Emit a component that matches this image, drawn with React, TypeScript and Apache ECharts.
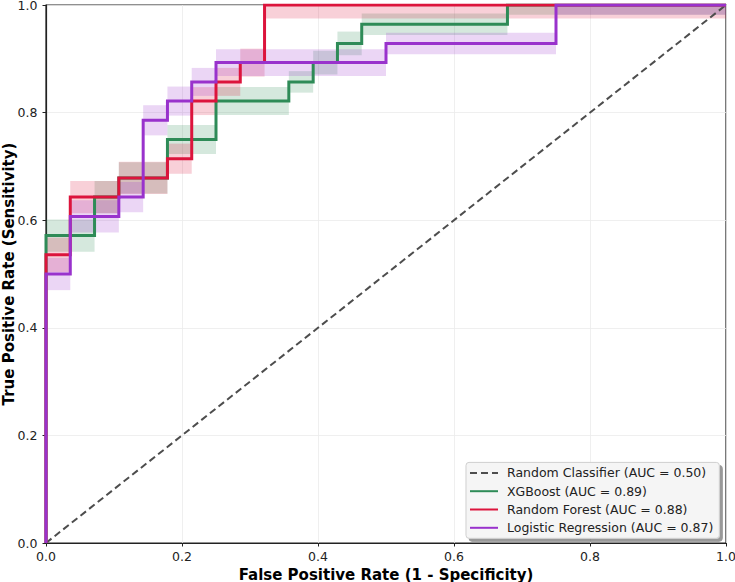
import React, { useEffect, useRef } from "react";
import * as echarts from "echarts";

const FONT = "'DejaVu Sans', 'Liberation Sans', sans-serif";

const legendNames = [
  "Random Classifier (AUC = 0.50)",
  "XGBoost (AUC = 0.89)",
  "Random Forest (AUC = 0.88)",
  "Logistic Regression (AUC = 0.87)",
];

const colors = ["#4d4d4d", "#2e8b57", "#dc143c", "#9932cc"];
const bandColors = ["rgba(46,139,87,0.2)", "rgba(220,20,60,0.2)", "rgba(153,50,204,0.2)"];

// diagonal reference
const diagX = [0, 1];
const diagY = [0, 1];

// XGBoost: segment boundaries (FPR), levels (TPR), band half-widths
const xgbFpr = [0, 0.0714, 0.1071, 0.1786, 0.25, 0.3571, 0.3929, 0.4286, 0.4643, 0.6786, 1.0];
const xgbTpr = [0.5714, 0.6429, 0.6786, 0.75, 0.8214, 0.8571, 0.8929, 0.9286, 0.9643, 1.0];
const xgbBand = [0.03, 0.03, 0.029, 0.027, 0.026, 0.02, 0.022, 0.022, 0.02, 0.018];

// Random Forest
const rfFpr = [0, 0.0357, 0.1071, 0.1786, 0.2143, 0.25, 0.2857, 0.3214, 1.0];
const rfTpr = [0.5357, 0.6429, 0.6786, 0.7143, 0.8214, 0.8571, 0.8929, 1.0];
const rfBand = [0.032, 0.03, 0.03, 0.028, 0.026, 0.026, 0.026, 0.025];

// Logistic Regression
const lrFpr = [0, 0.0357, 0.1071, 0.1429, 0.1786, 0.2143, 0.25, 0.5, 0.75, 1.0];
const lrTpr = [0.5, 0.6071, 0.6429, 0.7857, 0.8214, 0.8571, 0.8929, 0.9286, 1.0];
const lrBand = [0.03, 0.03, 0.028, 0.028, 0.027, 0.026, 0.025, 0.02, 0.018];

function stepPoints(xs: number[], levels: number[]) {
  const pts: number[][] = [[0, 0]];
  levels.forEach((y, i) => {
    pts.push([xs[i], y], [xs[i + 1], y]);
  });
  return pts;
}

function bandData(xs: number[], levels: number[], hw: number[]) {
  return levels.map((y, i) => [xs[i], xs[i + 1], y, hw[i]]);
}

function bandSeries(name: string, data: number[][], fill: string) {
  return {
    type: "custom",
    name,
    silent: true,
    z: 1,
    encode: { x: [0, 1], y: 2 },
    data,
    renderItem: (_params: any, api: any) => {
      const top = Math.min(1, api.value(2) + api.value(3));
      const bot = Math.max(0, api.value(2) - api.value(3));
      const a = api.coord([api.value(0), top]);
      const b = api.coord([api.value(1), bot]);
      return {
        type: "rect",
        shape: { x: a[0], y: a[1], width: b[0] - a[0], height: b[1] - a[1] },
        style: { fill, stroke: null },
      };
    },
  };
}

function lineSeries(name: string, data: number[][], color: string, extra: any = {}) {
  return {
    type: "line",
    name,
    data,
    showSymbol: false,
    symbol: "none",
    z: 3,
    lineStyle: { color, width: 3, join: "miter" },
    itemStyle: { color },
    ...extra,
  };
}

const axisCommon = {
  type: "value",
  min: 0,
  max: 1,
  interval: 0.2,
  nameLocation: "middle",
  nameMoveOverlap: false,
  nameTextStyle: { fontFamily: FONT, fontSize: 15, fontWeight: "bold", color: "#000" },
  axisLine: { show: true, onZero: false, lineStyle: { color: "#222", width: 1.2 } },
  axisTick: { show: true, length: 3.5, lineStyle: { color: "#222", width: 1 } },
  splitLine: { show: true, lineStyle: { color: "#ebebeb", width: 0.8 } },
};

export default function App() {
  const ref = useRef<HTMLDivElement>(null);
  useEffect(() => {
    document.body.style.margin = "0";
    const chart = echarts.init(ref.current!, null, { renderer: "svg" });
    const option: any = {
      animation: false,
      backgroundColor: "#ffffff",
      grid: {
        left: 46,
        top: 5,
        width: 680,
        height: 538,
        show: true,
        borderColor: "#222",
        borderWidth: 1.2,
        containLabel: false,
        outerBoundsMode: "none",
      },
      xAxis: {
        ...axisCommon,
        name: "False Positive Rate (1 - Specificity)",
        nameGap: 24,
        axisLabel: {
          fontFamily: FONT,
          fontSize: 12.5,
          color: "#222",
          margin: 7,
          formatter: (v: number) => v.toFixed(1),
        },
      },
      yAxis: {
        ...axisCommon,
        name: "True Positive Rate (Sensitivity)",
        nameGap: 30,
        nameRotate: 90,
        axisLabel: {
          fontFamily: FONT,
          fontSize: 12.5,
          color: "#222",
          margin: 8.5,
          formatter: (v: number) => v.toFixed(1),
        },
      },
      legend: {
        orient: "vertical",
        right: 15.7,
        bottom: 43.7,
        data: legendNames,
        itemWidth: 28,
        itemHeight: 14,
        itemGap: 5.3,
        padding: [4, 6, 4, 3],
        backgroundColor: "#f5f5f5",
        borderColor: "#cfcfcf",
        borderWidth: 1,
        borderRadius: 3,
        shadowColor: "rgba(0,0,0,0.4)",
        shadowBlur: 0,
        shadowOffsetX: 3,
        shadowOffsetY: 3,
        selectedMode: false,
        itemStyle: { color: "rgba(0,0,0,0)", borderWidth: 0, borderColor: "rgba(0,0,0,0)" },
        textStyle: { fontFamily: FONT, fontSize: 12.5, color: "#222", padding: [0, 0, 0, 4] },
      },
      series: [
        bandSeries("xgb-band", bandData(xgbFpr, xgbTpr, xgbBand), bandColors[0]),
        bandSeries("rf-band", bandData(rfFpr, rfTpr, rfBand), bandColors[1]),
        bandSeries("lr-band", bandData(lrFpr, lrTpr, lrBand), bandColors[2]),
        lineSeries(
          legendNames[0],
          diagX.map((x, i) => [x, diagY[i]]),
          colors[0],
          { lineStyle: { color: colors[0], width: 2, type: [7, 4] }, z: 2 }
        ),
        lineSeries(legendNames[1], stepPoints(xgbFpr, xgbTpr), colors[1]),
        lineSeries(legendNames[2], stepPoints(rfFpr, rfTpr), colors[2]),
        lineSeries(legendNames[3], stepPoints(lrFpr, lrTpr), colors[3]),
      ],
    };
    chart.setOption(option);
    return () => chart.dispose();
  }, []);
  return <div ref={ref} style={{ width: 735, height: 582 }} />;
}
